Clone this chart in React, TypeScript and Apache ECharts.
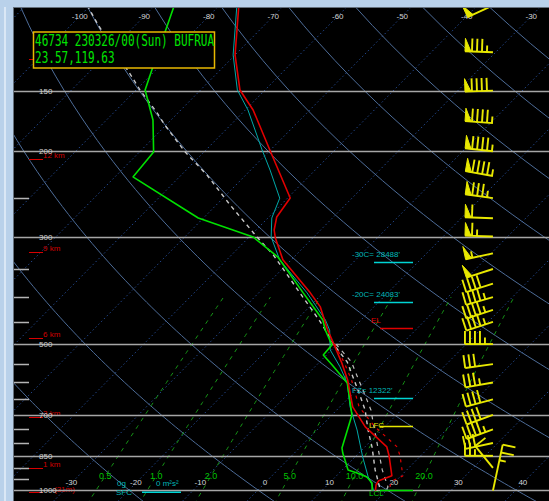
import React, { useEffect, useRef } from 'react';
import * as echarts from 'echarts';

const CHART_W = 549;
const CHART_H = 501;

// ---------- sounding data (hPa, °C) ----------
const TEMP_P = [100, 126.6, 149.5, 164.4, 198.8, 249.8, 273.3, 290.8, 302, 335, 392, 419, 468, 497, 547, 593, 674, 741, 815, 850, 935, 957, 975, 1003];
const TEMP_C = [-77.0, -70.0, -63.9, -58.8, -50.1, -39.6, -38.8, -37.2, -35.8, -31.3, -22.0, -18.3, -13.6, -10.8, -6.4, -2.9, 2.0, 7.0, 13.4, 15.1, 18.6, 17.3, 17.5, 18.3];

const DEW_P = [100, 136, 149.5, 172.4, 200.8, 226, 274.7, 300.6, 330.6, 392, 446, 467.7, 502, 526.6, 552, 601.5, 700, 819, 839, 909, 922, 940, 967, 1003];
const DEW_C = [-87.0, -80.6, -78.6, -72.8, -67.8, -67.2, -50.8, -39.4, -32.5, -23.1, -15.9, -14.0, -10.7, -10.5, -7.6, -2.5, 3.1, 6.6, 7.5, 10.9, 12.75, 14.9, 16.6, 17.8];

const WET_P = [100, 126.6, 149.5, 164.4, 198.8, 218.7, 250, 274.7, 300.6, 335, 392, 446, 468, 514, 557, 601.5, 674, 752, 855, 940, 976, 1003];
const WET_C = [-77.3, -70.3, -64.3, -59.6, -51.3, -47.0, -41.2, -39.4, -36.6, -31.8, -22.5, -15.5, -13.3, -10.2, -6.1, -2.5, 1.6, 6.2, 11.2, 15.1, 16.9, 18.0];

const PARCEL_P = [100, 109.8, 140.6, 149.5, 166.8, 176.6, 200.8, 224, 258, 300.6, 327.5, 400, 450, 497.5, 514, 544, 585, 637, 684, 752, 815, 909, 986, 1003];
const PARCEL_C = [-100.5, -95.8, -82.6, -79.4, -73.2, -70.2, -62.9, -56.0, -47.9, -38.8, -33.5, -22.5, -16.0, -10.8, -9.0, -5.75, -2.5, 1.3, 4.4, 7.9, 11.1, 15.1, 18.4, 18.6];

const PARCEL_V_P = [500, 544, 585, 637, 684, 752, 815, 909, 986, 1003];
const PARCEL_V_C = [-10.2, -5.1, -1.8, 2.1, 5.3, 8.9, 12.0, 16.2, 19.7, 19.9];

const VIRT_P = [500, 547, 593, 674, 741, 815, 850, 935, 957, 975, 1003];
const VIRT_C = [-10.4, -6.0, -2.3, 3.0, 8.5, 15.0, 16.8, 20.3, 19.4, 19.7, 20.5];

// ---------- winds ----------
const WIND_P = [100, 125, 150, 175, 200, 225, 250, 275, 300, 325, 350, 375, 400, 425, 450, 500, 550, 600, 650, 700, 750, 800, 850, 900, 1003];
const WIND_DIR = [245, 272, 268, 274, 276, 280, 278, 272, 272, 258, 252, 252, 254, 252, 252, 270, 262, 260, 255, 250, 250, 258, 270, 321, 12];
const WIND_KT = [50, 85, 90, 95, 95, 95, 85, 60, 65, 55, 50, 40, 45, 45, 45, 45, 30, 35, 40, 40, 45, 30, 25, 10, 25];

// ---------- diagram reference lines ----------
const PRESSURE_LEVELS = [150, 200, 300, 500, 700, 850, 1000];
const PRESSURE_TICKS = [250, 350, 400, 450, 550, 600, 650, 750, 800, 900, 950];
const ISOTHERMS = [-110, -100, -90, -80, -70, -60, -50, -40, -30, -20, -10, 0, 10, 20, 30, 40];
const DRY_ADIABATS = [-20, 0, 20, 40, 60, 80, 100, 120, 140, 160, 180, 200];
const MIXING_RATIOS = [0.5, 1, 2, 5, 10, 20];
const MIXING_LABELS = ['0.5', '1.0', '2.0', '5.0', '10.0', '20.0'];
const TOP_T_LABELS = [-100, -90, -80, -70, -60, -50, -40, -30];
const BOTTOM_T_LABELS = [-30, -20, -10, 0, 10, 20, 30, 40];

const HEIGHT_P = [129, 207.6, 322.8, 485.9, 707, 900.8, 1009];
const HEIGHT_LABELS = ['15 km', '12 km', '9 km', '6 km', '3 km', '1 km', '(31m)'];

const ANNOT_P = [338, 409, 646, 463, 738, 1000];
const ANNOT_TEXT = ["-30C= 28488'", "-20C= 24083'", "FZ= 12322'", 'EL', 'LFC', 'LCL'];

const TITLE_LINES = ['46734 230326/00(Sun) BUFRUA', '23.57,119.63'];

// ---------- skew-T projection ----------
const SKEW = 32.15;
const L = (p: number) => Math.log(1000 / p);
const skewX = (t: number, p: number) => t + SKEW * L(p);
const pt = (t: number, p: number) => [skewX(t, p), L(p)];
const X_MIN = -37.83;
const X_MAX = 45.12;
const Y_MIN = -0.0523;
const Y_MAX = 2.2898;
const BARB_X = 36.43;

const tdFromW = (w: number, p: number) => {
  const e = (w * p) / (622 + w);
  const g = Math.log(e / 6.112);
  return (243.5 * g) / (17.67 - g);
};
const tFromTheta = (th: number, p: number) => (th + 273.15) * Math.pow(p / 1000, 0.2857) - 273.15;

const FONT = 'Liberation Sans';

function lineSeries(data: any[], color: string, width: number, type: any, z: number) {
  return {
    type: 'line',
    data,
    symbol: 'none',
    showSymbol: false,
    silent: true,
    clip: true,
    z,
    lineStyle: { color, width, type },
  };
}

function buildOption() {
  const series: any[] = [];

  ISOTHERMS.forEach((t) => {
    series.push(lineSeries([pt(t, 1070), pt(t, 95)], '#22468a', 1, [1.5, 2.5], 1));
  });

  DRY_ADIABATS.forEach((th) => {
    const d: any[] = [];
    for (let p = 1070; p >= 95; p -= 10) d.push(pt(tFromTheta(th, p), p));
    series.push(lineSeries(d, '#4d6c98', 1, 'solid', 1));
  });

  MIXING_RATIOS.forEach((w) => {
    const d: any[] = [];
    for (let p = 1070; p >= 400; p -= 10) d.push(pt(tdFromW(w, p), p));
    series.push(lineSeries(d, '#169616', 1, [4, 5], 1));
  });

  // pressure lines + labels
  series.push({
    type: 'custom',
    silent: true,
    z: 3,
    data: PRESSURE_LEVELS.map((p) => [0, L(p), p]),
    renderItem: (params: any, api: any) => {
      const cs = params.coordSys;
      const y = Math.round(api.coord([0, api.value(1)])[1]) + 0.5;
      return {
        type: 'group',
        children: [
          { type: 'line', shape: { x1: cs.x, y1: y, x2: cs.x + cs.width, y2: y }, style: { stroke: '#a6a6a6', lineWidth: 1.6 } },
          {
            type: 'text',
            x: cs.x + 25,
            y,
            z2: 5,
            style: { text: String(api.value(2)), fill: '#cfcfcf', fontSize: 8, fontFamily: FONT, align: 'left', verticalAlign: 'middle', textAlign: 'left', textVerticalAlign: 'middle' },
          },
        ],
      };
    },
  });

  // left ticks
  series.push({
    type: 'custom',
    silent: true,
    z: 3,
    data: PRESSURE_TICKS.map((p) => [0, L(p)]),
    renderItem: (params: any, api: any) => {
      const cs = params.coordSys;
      const y = Math.round(api.coord([0, api.value(1)])[1]) + 0.5;
      return { type: 'line', shape: { x1: cs.x, y1: y, x2: cs.x + 15, y2: y }, style: { stroke: '#b4b4b4', lineWidth: 1.5 } };
    },
  });

  // height markers
  series.push({
    type: 'custom',
    silent: true,
    z: 2,
    data: HEIGHT_P.map((p, i) => [0, L(p), i]),
    renderItem: (params: any, api: any) => {
      const cs = params.coordSys;
      const y = Math.round(api.coord([0, api.value(1)])[1]) + 0.5;
      const i = api.value(2);
      const last = i === HEIGHT_P.length - 1;
      return {
        type: 'group',
        children: [
          { type: 'line', shape: { x1: cs.x + 15, y1: y, x2: cs.x + 29, y2: y }, style: { stroke: '#d80000', lineWidth: 1 } },
          {
            type: 'text',
            x: cs.x + (last ? 40 : 29),
            y: y - (last ? 3 : 4),
            style: { text: HEIGHT_LABELS[i], fill: '#d00000', fontSize: 8, fontFamily: FONT, align: 'left', verticalAlign: 'middle', textAlign: 'left', textVerticalAlign: 'middle' },
          },
        ],
      };
    },
  });

  // temperature labels
  const tLabel = (vals: number[], p: number) => ({
    type: 'custom',
    silent: true,
    z: 4,
    data: vals.map((t) => [skewX(t, p), L(p), t]),
    renderItem: (params: any, api: any) => {
      const c = api.coord([api.value(0), api.value(1)]);
      return {
        type: 'text',
        x: c[0],
        y: c[1],
        style: { text: String(api.value(2)), fill: '#d4d4d4', fontSize: 8, fontFamily: FONT, align: 'center', verticalAlign: 'middle', textAlign: 'center', textVerticalAlign: 'middle' },
      };
    },
  });
  series.push(tLabel(TOP_T_LABELS, 105.3));
  series.push(tLabel(BOTTOM_T_LABELS, 967.3));

  // mixing ratio labels
  series.push({
    type: 'custom',
    silent: true,
    z: 4,
    data: MIXING_RATIOS.map((w, i) => [skewX(tdFromW(w, 935.7), 935.7), L(935.7), i]),
    renderItem: (params: any, api: any) => {
      const c = api.coord([api.value(0), api.value(1)]);
      return {
        type: 'text',
        x: c[0],
        y: c[1],
        style: { text: MIXING_LABELS[api.value(2)], fill: '#00c400', fontSize: 9, fontFamily: FONT, align: 'center', verticalAlign: 'middle', textAlign: 'center', textVerticalAlign: 'middle' },
      };
    },
  });

  // profiles
  series.push(lineSeries(PARCEL_P.map((p, i) => pt(PARCEL_C[i], p)), '#c8c8c8', 1.4, [4, 4], 5));
  series.push(lineSeries(PARCEL_V_P.map((p, i) => pt(PARCEL_V_C[i], p)), '#bcbcbc', 1.2, [4, 5], 5));
  series.push(lineSeries(VIRT_P.map((p, i) => pt(VIRT_C[i], p)), '#e00000', 1.2, [3, 5], 5));
  series.push(lineSeries(WET_P.map((p, i) => pt(WET_C[i], p)), '#00a8a8', 1, 'solid', 6));
  series.push(lineSeries(DEW_P.map((p, i) => pt(DEW_C[i], p)), '#00e000', 1.6, 'solid', 7));
  series.push(lineSeries(TEMP_P.map((p, i) => pt(TEMP_C[i], p)), '#e00000', 1.6, 'solid', 8));

  // level annotations
  const annotColor = ['#00d4d4', '#00d4d4', '#00d4d4', '#e00000', '#e6e600', '#00e000'];
  const textColor = ['#00b8b8', '#00b8b8', '#00b8b8', '#e00000', '#e6e600', '#00d000'];
  series.push({
    type: 'custom',
    silent: true,
    z: 9,
    data: ANNOT_P.map((p, i) => [0, L(p), i]),
    renderItem: (params: any, api: any) => {
      const cs = params.coordSys;
      const i = api.value(2);
      const y = Math.round(api.coord([0, api.value(1)])[1]) + 0.5;
      const x1 = cs.x + (i < 3 ? 360 : 366);
      const tx = cs.x + (i < 3 ? 338 : i === 3 ? 357 : 355);
      const ty = i < 4 ? y - 8 : i === 4 ? y - 1 : y + 3;
      return {
        type: 'group',
        children: [
          { type: 'line', shape: { x1, y1: y, x2: cs.x + 399, y2: y }, style: { stroke: annotColor[i], lineWidth: 1.6 } },
          {
            type: 'text',
            x: tx,
            y: ty,
            style: { text: ANNOT_TEXT[i], fill: textColor[i], fontSize: 8, fontFamily: FONT, align: 'left', verticalAlign: 'middle', textAlign: 'left', textVerticalAlign: 'middle' },
          },
        ],
      };
    },
  });

  // wind barbs
  series.push({
    type: 'custom',
    silent: true,
    z: 10,
    data: WIND_P.map((p, i) => [BARB_X, L(p), WIND_DIR[i], WIND_KT[i]]),
    renderItem: (params: any, api: any) => {
      const base = api.coord([api.value(0), api.value(1)]);
      const dir = (api.value(2) * Math.PI) / 180;
      const spd = api.value(3);
      const big = params.dataIndex === WIND_P.length - 1;
      const len = big ? 47 : 28;
      const bl = 13;
      const sp = big ? 8 : 5;
      const pw = 6;
      const ux = Math.sin(dir);
      const uy = -Math.cos(dir);
      const nx = -uy;
      const ny = ux;
      const tip = [base[0] + ux * len, base[1] + uy * len];
      const P = (d: number) => [tip[0] - ux * d, tip[1] - uy * d];
      const col = '#e8e800';
      const lw = 1.9;
      const children: any[] = [
        { type: 'line', shape: { x1: base[0], y1: base[1], x2: tip[0], y2: tip[1] }, style: { stroke: col, lineWidth: lw } },
      ];
      let rem = Math.round(spd / 5) * 5;
      let d = 0;
      while (rem >= 50) {
        const a = P(d);
        const b = P(d + pw);
        children.push({
          type: 'polygon',
          shape: { points: [a, [a[0] + nx * bl, a[1] + ny * bl], b] },
          style: { fill: col, stroke: col, lineWidth: 1 },
        });
        d += pw + 1;
        rem -= 50;
      }
      while (rem >= 10) {
        const a = P(d);
        children.push({ type: 'line', shape: { x1: a[0], y1: a[1], x2: a[0] + nx * bl, y2: a[1] + ny * bl }, style: { stroke: col, lineWidth: lw } });
        d += sp;
        rem -= 10;
      }
      if (rem >= 5) {
        const a = P(d);
        children.push({ type: 'line', shape: { x1: a[0], y1: a[1], x2: a[0] + nx * bl * 0.5, y2: a[1] + ny * bl * 0.5 }, style: { stroke: col, lineWidth: lw } });
      }
      return { type: 'group', children };
    },
  });

  const txt = (text: string, x: number, y: number, fill: string, size: number, align = 'left') => ({
    type: 'text',
    x,
    y,
    z: 40,
    style: { text, fill, fontSize: size, fontFamily: FONT, align, verticalAlign: 'middle', textAlign: align, textVerticalAlign: 'middle' },
  });

  const graphic: any[] = [
    // title box
    { type: 'rect', z: 50, shape: { x: 33.5, y: 32, width: 181, height: 36 }, style: { fill: '#000', stroke: '#e8b800', lineWidth: 1.5 } },
    {
      type: 'text', z: 51, x: 35, y: 41, scaleX: 0.735,
      style: { text: TITLE_LINES[0], fill: '#00e400', fontSize: 15, fontFamily: 'DejaVu Sans Mono', align: 'left', verticalAlign: 'middle', textAlign: 'left', textVerticalAlign: 'middle' },
    },
    {
      type: 'text', z: 51, x: 35, y: 57.5, scaleX: 0.735,
      style: { text: TITLE_LINES[1], fill: '#00e400', fontSize: 15, fontFamily: 'DejaVu Sans Mono', align: 'left', verticalAlign: 'middle', textAlign: 'left', textVerticalAlign: 'middle' },
    },
    // surface indices
    txt('0g', 117, 483, '#00b8b8', 8),
    txt('SFC', 116, 492, '#00b8b8', 8),
    txt('0 m²s²', 156, 483, '#00b8b8', 8),
    { type: 'rect', z: 40, shape: { x: 142, y: 491.5, width: 39, height: 1.6 }, style: { fill: '#00d4d4' } },
    // window chrome
    { type: 'rect', z: 100, shape: { x: 0, y: 0, width: CHART_W, height: 7 }, style: { fill: '#b9d1ea' } },
    { type: 'rect', z: 100, shape: { x: 0, y: 0, width: 13, height: CHART_H }, style: { fill: '#b9d1ea' } },
    { type: 'rect', z: 101, shape: { x: 4, y: 7, width: 2, height: CHART_H - 7 }, style: { fill: '#dae7f5' } },
    { type: 'rect', z: 101, shape: { x: 13, y: 7, width: 1, height: CHART_H - 7 }, style: { fill: '#65707c' } },
    { type: 'rect', z: 101, shape: { x: 13, y: 7, width: CHART_W - 13, height: 1 }, style: { fill: '#65707c' } },
  ];

  return {
    animation: false,
    backgroundColor: '#b9d1ea',
    grid: { left: 14, top: 8, right: 0, bottom: 0, show: true, backgroundColor: '#000000', borderWidth: 0 },
    xAxis: { type: 'value', min: X_MIN, max: X_MAX, show: false },
    yAxis: { type: 'value', min: Y_MIN, max: Y_MAX, show: false },
    series,
    graphic,
  };
}

export default function App() {
  const ref = useRef<HTMLDivElement>(null);
  useEffect(() => {
    if (!ref.current) return;
    const chart = echarts.init(ref.current, undefined, { renderer: 'svg', width: CHART_W, height: CHART_H });
    chart.setOption(buildOption() as any);
    return () => chart.dispose();
  }, []);
  return <div ref={ref} style={{ position: 'fixed', left: 0, top: 0, width: CHART_W, height: CHART_H }} />;
}
